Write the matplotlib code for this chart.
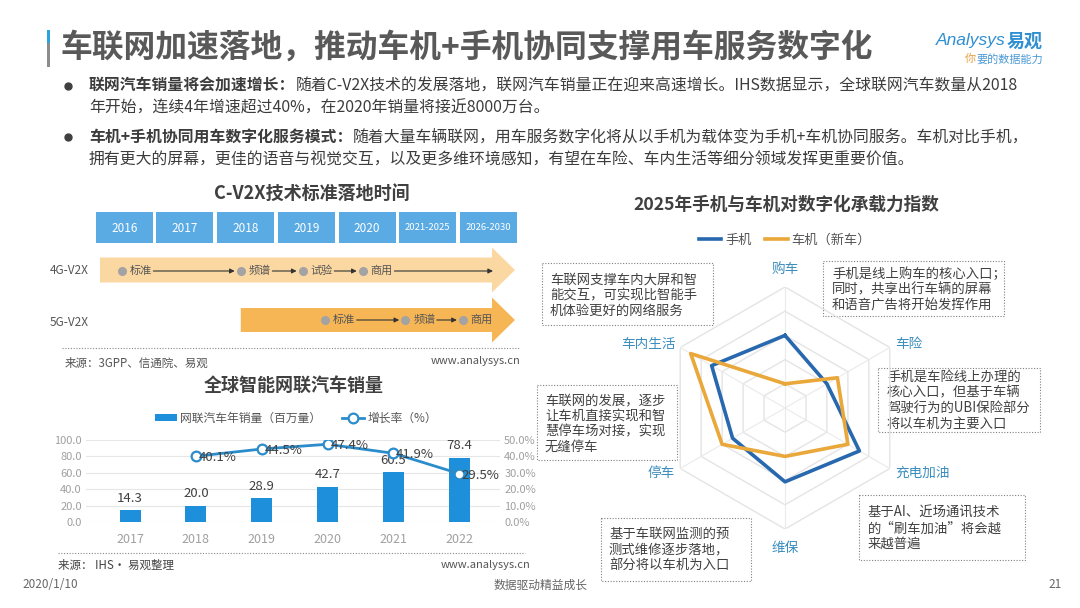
import matplotlib
matplotlib.use('Agg')
import matplotlib.pyplot as plt
from matplotlib.patches import Rectangle, FancyArrow
import numpy as np

plt.rcParams['font.family'] = ['Noto Sans CJK SC', 'DejaVu Sans']

# ---------------- data ----------------
page_title = '车联网加速落地，推动车机+手机协同支撑用车服务数字化'
bullet_bold = ['联网汽车销量将会加速增长：', '车机+手机协同用车数字化服务模式：']
bullet_line1 = ['随着C-V2X技术的发展落地，联网汽车销量正在迎来高速增长。IHS数据显示，全球联网汽车数量从2018',
                '随着大量车辆联网，用车服务数字化将从以手机为载体变为手机+车机协同服务。车机对比手机，']
bullet_line2 = ['年开始，连续4年增速超过40%，在2020年销量将接近8000万台。',
                '拥有更大的屏幕，更佳的语音与视觉交互，以及更多维环境感知，有望在车险、车内生活等细分领域发挥更重要价值。']

timeline_title = 'C-V2X技术标准落地时间'
timeline_periods = ['2016', '2017', '2018', '2019', '2020', '2021-2025', '2026-2030']
g4_stages = ['标准', '频谱', '试验', '商用']
g4_stage_pos = [0.43, 2.39, 3.41, 4.40]
g5_stages = ['标准', '频谱', '商用']
g5_stage_pos = [3.78, 5.10, 6.05]

sales_title = '全球智能网联汽车销量'
years = ['2017', '2018', '2019', '2020', '2021', '2022']
sales = [14.3, 20.0, 28.9, 42.7, 60.5, 78.4]
growth = [np.nan, 40.1, 44.5, 47.4, 41.9, 29.5]
sales_ticks = [0, 20, 40, 60, 80, 100]
growth_ticks = [0, 10, 20, 30, 40, 50]

radar_title = '2025年手机与车机对数字化承载力指数'
radar_cats = ['购车', '车险', '充电加油', '维保', '停车', '车内生活']
phone_idx = [3.0, 2.0, 3.55, 3.05, 2.5, 3.5]
car_idx = [1.0, 2.5, 3.0, 2.0, 3.0, 4.5]

notes = [
    ['车联网支撑车内大屏和智', '能交互，可实现比智能手', '机体验更好的网络服务'],
    ['手机是线上购车的核心入口；', '同时，共享出行车辆的屏幕', '和语音广告将开始发挥作用'],
    ['手机是车险线上办理的', '核心入口，但基于车辆', '驾驶行为的UBI保险部分', '将以车机为主要入口'],
    ['车联网的发展，逐步', '让车机直接实现和智', '慧停车场对接，实现', '无缝停车'],
    ['基于车联网监测的预', '测式维修逐步落地，', '部分将以车机为入口'],
    ['基于AI、近场通讯技术', '的“刷车加油”将会越', '来越普遍'],
]

# ---------------- layout / style ----------------
W, H = 1080, 608
BLUE_BOX = '#5AAAE4'
BAR_BLUE = '#1E8FDB'
LINE_BLUE = '#2B8CCB'
PHONE_C = '#2868AE'
CAR_C = '#EAA73A'
LABEL_C = '#3A8DBF'
TXT = '#3C3C3C'


def fr(x0, y0, x1, y1):
    return [x0 / W, 1 - y1 / H, (x1 - x0) / W, (y1 - y0) / H]


fig = plt.figure(figsize=(10.8, 6.08), dpi=100)
fig.patch.set_facecolor('white')

ax0 = fig.add_axes([0, 0, 1, 1])
ax0.set_xlim(0, W)
ax0.set_ylim(H, 0)
ax0.axis('off')

# title bar
ax0.add_patch(Rectangle((47, 30), 3, 13, color='#2AA3DE', lw=0))
ax0.add_patch(Rectangle((47, 43), 3, 24, color='#8C8C8C', lw=0))
ax0.text(60, 48, page_title, fontsize=22.9, fontweight='bold', color='#595959', va='center', ha='left')

# logo
ax0.text(936, 41, 'Analysys', family='Liberation Sans', style='italic', fontsize=12.5, color='#2F8FD0', va='center')
ax0.text(1007, 41, '易观', fontsize=13, fontweight='bold', color='#2F8FD0', va='center')
ax0.text(965, 59, '你', fontsize=8, color='#E8A040', va='center')
ax0.text(976, 59, '要的数据能力', fontsize=8, color='#4A9AD6', va='center')

# bullets
renderer = fig.canvas.get_renderer()
bullet_y = [(86, 108), (137, 160)]
for i in range(2):
    y1, y2 = bullet_y[i]
    ax0.plot([68], [y1], 'o', color='#404040', ms=5)
    t = ax0.text(89, y1, bullet_bold[i], fontsize=11.4, fontweight='bold', color=TXT, va='center', ha='left')
    bb = t.get_window_extent(renderer)
    ax0.text(bb.x1, y1, bullet_line1[i], fontsize=11.4, color=TXT, va='center', ha='left')
    ax0.text(89, y2, bullet_line2[i], fontsize=11.4, color=TXT, va='center', ha='left')

# ---------------- timeline ----------------
ax0.text(312, 193, timeline_title, fontsize=13, fontweight='bold', color='#404040', ha='center', va='center')
slot_px0, slot_w = 95.7, 60.7
tl_x0, tl_x1 = 40, 530
ax_t = fig.add_axes(fr(tl_x0, 205, tl_x1, 350))
ax_t.set_xlim((tl_x0 - slot_px0) / slot_w, (tl_x1 - slot_px0) / slot_w)
ax_t.set_ylim(350, 205)
ax_t.axis('off')
ax_t.patch.set_visible(False)
for i, p in enumerate(timeline_periods):
    ax_t.add_patch(Rectangle((i, 212), 0.94, 31, color=BLUE_BOX, lw=0))
    ax_t.text(i + 0.47, 228, p, ha='center', va='center', color='white',
              fontsize=8.5 if len(p) == 4 else 6.8)

tip = (515 - slot_px0) / slot_w
g4_start = (100 - slot_px0) / slot_w
g5_start = g4_stage_pos[1]
head_len = (515 - 492) / slot_w
ax_t.add_patch(FancyArrow(g4_start, 270, tip - g4_start, 0, width=25, head_width=45,
                          head_length=head_len, length_includes_head=True, color='#FBD8A2', lw=0))
ax_t.add_patch(FancyArrow(g5_start, 320, tip - g5_start, 0, width=24, head_width=45,
                          head_length=head_len, length_includes_head=True, color='#F6B655', lw=0))


def stage_row(pos, names, y, final_end=None):
    ax_t.plot(pos, [y] * len(pos), 'o', color='#A3A3A3', ms=5.5, zorder=3)
    for p, n in zip(pos, names):
        ax_t.text(p + 0.13, y, n, fontsize=8, color='#555555', va='center', ha='left')
    ends = list(pos[1:]) + ([final_end] if final_end else [])
    starts = pos[:len(ends)]
    for s, e in zip(starts, ends):
        off = 0.1 if e != final_end else 0
        ax_t.annotate('', xy=(e - off, y), xytext=(s + 0.52, y),
                      arrowprops=dict(arrowstyle='-|>', color='#333333', lw=0.8, mutation_scale=7,
                                      shrinkA=0, shrinkB=0))


stage_row(g4_stage_pos, g4_stages, 271, final_end=(493 - slot_px0) / slot_w)
stage_row(g5_stage_pos, g5_stages, 320)

ax0.text(50, 271, '4G-V2X', fontsize=8.5, color='#555555', va='center', ha='left')
ax0.text(50, 322, '5G-V2X', fontsize=8.5, color='#555555', va='center', ha='left')
ax0.plot([62, 520], [348, 348], ls=(0, (1, 1.5)), color='#888888', lw=0.8)
ax0.text(65, 363, '来源：3GPP、信通院、易观', fontsize=8.3, color='#555555', va='center', ha='left')
ax0.text(520, 361, 'www.analysys.cn', fontsize=8, color='#555555', va='center', ha='right')

# ---------------- bar chart ----------------
ax0.text(294, 385, sales_title, fontsize=13, fontweight='bold', color='#404040', ha='center', va='center')
ax_b = fig.add_axes(fr(86, 440, 500, 522))
ax_b.patch.set_visible(False)
x = np.arange(len(years))
bars = ax_b.bar(x, sales, width=0.32, color=BAR_BLUE, zorder=2)
ax_b.set_xlim(-0.669, 5.62)
ax_b.set_ylim(0, 100)
ax_b.set_yticks(sales_ticks)
ax_b.set_yticklabels([f'{v:.1f}' for v in sales_ticks])
ax_b.set_xticks(x)
ax_b.set_xticklabels(years)
ax_b.grid(axis='y', color='#E6E6E6', lw=0.8, zorder=0)
for s in ax_b.spines.values():
    s.set_visible(False)
ax_b.tick_params(axis='y', length=0, pad=3, labelsize=8, labelcolor='#A0A0A0')
ax_b.tick_params(axis='x', length=0, pad=8, labelsize=9, labelcolor='#A0A0A0')
for xi, v in zip(x, sales):
    ax_b.annotate(f'{v:.1f}', (xi, v), xytext=(0, 4), textcoords='offset points',
                  ha='center', va='bottom', fontsize=9.5, color='#404040')

ax_r = ax_b.twinx()
ax_r.set_ylim(0, 50)
ax_r.set_yticks(growth_ticks)
ax_r.set_yticklabels([f'{v:.1f}%' for v in growth_ticks])
for s in ax_r.spines.values():
    s.set_visible(False)
ax_r.tick_params(axis='y', length=0, pad=3, labelsize=8, labelcolor='#A0A0A0')
line, = ax_r.plot(x, growth, '-o', color=LINE_BLUE, lw=2, ms=7, mfc='white', mec=LINE_BLUE, mew=1.6, zorder=3)
for xi, g in zip(x, growth):
    if not np.isnan(g):
        ax_r.annotate(f'{g:.1f}%', (xi, g), xytext=(2, -1), textcoords='offset points',
                      ha='left', va='center', fontsize=9.5, color='#404040')

fig.legend([bars, line], ['网联汽车年销量（百万量）', '增长率（%）'], loc='center',
           bbox_to_anchor=(296 / W, 1 - 418 / H), ncol=2, frameon=False, fontsize=8.5,
           handlelength=1.8, handleheight=0.6, handletextpad=0.3, columnspacing=1.8, labelcolor='#555555')

ax0.plot([58, 525], [553, 553], ls=(0, (1, 1.5)), color='#888888', lw=0.8)
ax0.text(58, 565, '来源： IHS· 易观整理', fontsize=8.3, color='#444444', va='center', ha='left')
ax0.text(530, 565, 'www.analysys.cn', fontsize=8, color='#555555', va='center', ha='right')

# ---------------- radar ----------------
ax0.text(786, 205, radar_title, fontsize=12.7, fontweight='bold', color='#404040', ha='center', va='center')
cx, cy, R = 785, 408, 121
ax_p = fig.add_axes(fr(cx - R, cy - R, cx + R, cy + R), projection='polar')
ax_p.set_theta_zero_location('N')
ax_p.set_theta_direction(-1)
ax_p.set_ylim(0, 5)
ax_p.axis('off')
angles = np.arange(len(radar_cats)) * 2 * np.pi / len(radar_cats)
closed = np.append(angles, angles[0])
for r in range(1, 6):
    ax_p.plot(closed, [r] * len(closed), color='#E4E4E4', lw=1, zorder=1)
for a in angles:
    ax_p.plot([a, a], [0, 5], color='#EAEAEA', lw=0.8, zorder=1)
lp, = ax_p.plot(closed, phone_idx + phone_idx[:1], color=PHONE_C, lw=2.6, zorder=3)
lc, = ax_p.plot(closed, car_idx + car_idx[:1], color=CAR_C, lw=2.6, zorder=3)

fig.legend([lp, lc], ['手机', '车机（新车）'], loc='center', bbox_to_anchor=(785 / W, 1 - 240 / H),
           ncol=2, frameon=False, fontsize=9.5, handlelength=1.7, handletextpad=0.3, columnspacing=1.0,
           labelcolor='#555555')

label_pos = [(785, 269), (909, 344), (922, 473), (785, 548), (661, 473), (648, 344)]
for name, (lx, ly) in zip(radar_cats, label_pos):
    ax0.text(lx, ly, name, fontsize=9.8, color=LABEL_C, ha='center', va='center')

note_boxes = [(542, 263, 713, 325), (823, 261, 1004, 316), (878, 368, 1040, 432),
              (537, 385, 677, 460), (601, 518, 751, 581), (859, 495, 1025, 560)]
note_text_xy = [(550, 280, 15.5), (832, 274, 15.8), (887, 377, 15.5),
                (545, 400, 15.5), (609, 534, 15.5), (868, 513, 15.5)]
for (x0, y0, x1, y1), (tx, ty, step), lines in zip(note_boxes, note_text_xy, notes):
    ax0.add_patch(Rectangle((x0, y0), x1 - x0, y1 - y0, facecolor='white', edgecolor='#808080',
                            lw=0.8, ls=(0, (1, 1.5))))
    for k, ln in enumerate(lines):
        ax0.text(tx, ty + k * step, ln, fontsize=9.6, color='#404040', ha='left', va='center')

# footer
ax0.text(22, 585, '2020/1/10', fontsize=8.5, color='#666666', va='center', ha='left')
ax0.text(541, 585, '数据驱动精益成长', fontsize=8.5, color='#666666', va='center', ha='center')
ax0.text(1062, 585, '21', fontsize=8.5, color='#666666', va='center', ha='right')

fig.savefig('out.png', dpi=100, facecolor='white')
